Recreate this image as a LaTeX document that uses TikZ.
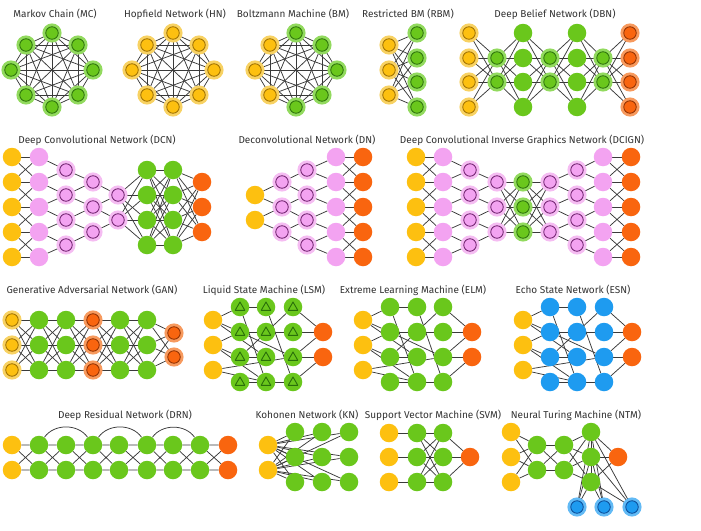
\documentclass[tikz,border=0pt]{standalone}
\usepackage{fontspec}
\setmainfont{Fira Sans}
\pgfdeclarelayer{bgl}
\pgfdeclarelayer{edges}
\pgfsetlayers{bgl,edges,main}
\definecolor{cY}{HTML}{FDC010}
\definecolor{cYh}{HTML}{F8D263}
\definecolor{cYd}{HTML}{9C6E00}
\definecolor{cG}{HTML}{6AC71C}
\definecolor{cGh}{HTML}{92DA5E}
\definecolor{cGd}{HTML}{2A6F0A}
\definecolor{cO}{HTML}{F9650F}
\definecolor{cOh}{HTML}{F79A5E}
\definecolor{cOd}{HTML}{8C2E00}
\definecolor{cP}{HTML}{F3A3F1}
\definecolor{cPh}{HTML}{F5BCF2}
\definecolor{cPd}{HTML}{6E1F6C}
\definecolor{cB}{HTML}{1E9BF0}
\definecolor{cBh}{HTML}{62BAF5}
\definecolor{cBd}{HTML}{0A4A96}
\definecolor{cE}{HTML}{3A3A3A}
\definecolor{cT}{HTML}{333333}
\newcommand\mklayer[4]{\foreach \yy [count=\kk] in {#3} {\node[#4] (#1\kk) at (#2,\yy) {};}}
\newcommand\fullc[4]{\begin{pgfonlayer}{edges}\foreach \aa in {1,...,#2} {\foreach \bb in {1,...,#4} {\draw[lnk] (#1\aa) -- (#3\bb);}}\end{pgfonlayer}}
\newcommand\convc[3]{\begin{pgfonlayer}{edges}\pgfmathtruncatemacro\mynn{#2-1}\foreach \jj in {1,...,\mynn} {\pgfmathtruncatemacro\myjn{\jj+1}\draw[lnk] (#3\jj) -- (#1\jj) (#3\jj) -- (#1\myjn);}\end{pgfonlayer}}
\newcommand\crossc[3]{\begin{pgfonlayer}{edges}\foreach \jj in {1,...,#3} {\draw[lnk] (#1\jj) -- (#2\jj);}\pgfmathtruncatemacro\mynn{#3-1}\foreach \jj in {1,...,\mynn} {\pgfmathtruncatemacro\myjn{\jj+1}\draw[lnk] (#1\jj) -- (#2\myjn) (#1\myjn) -- (#2\jj);}\end{pgfonlayer}}
\newcommand\kgraph[1]{\begin{pgfonlayer}{edges}\foreach \ii in {1,...,7} {\pgfmathtruncatemacro\myk{\ii+1}\foreach \jj in {\myk,...,8} {\draw[lnk] (#1\ii) -- (#1\jj);}}\end{pgfonlayer}}
\newcommand\reserv[1]{\begin{pgfonlayer}{edges}\foreach \p/\q in {Y1/A1,Y1/A2,Y1/B3,Y2/A2,Y2/A3,Y2/B4,Y3/B4,Y3/C3,A1/B1,A1/B4,A2/B2,A2/C3,A3/C1,A3/B3,A4/B4,B1/C4,B2/C2,B4/C4,C1/O1,C2/O1,C3/O1,C3/O2,C4/O2} {\draw[lnk] (#1\p) -- (#1\q);}\end{pgfonlayer}}
\begin{document}
\begin{tikzpicture}[x=1pt,y=-1pt,
  lnk/.style={draw=cE,line width=0.75pt},
  ttl/.style={font=\fontsize{10}{12}\selectfont,text=cT,inner sep=0pt},
  plainn/.style={circle,minimum size=18.5pt,inner sep=0pt,fill=#1},
  ringn/.style n args={3}{circle,minimum size=12.5pt,inner sep=0pt,fill=#1,draw=#3,line width=0.8pt,preaction={draw=#2,line width=6.5pt}},
  nY/.style={plainn=cY}, nG/.style={plainn=cG}, nO/.style={plainn=cO},
  nP/.style={plainn=cP}, nB/.style={plainn=cB},
  rY/.style={ringn={cY}{cYh}{cYd}}, rG/.style={ringn={cG}{cGh}{cGd}},
  rO/.style={ringn={cO}{cOh}{cOd}}, rP/.style={ringn={cP}{cPh}{cPd}},
  rB/.style={ringn={cB}{cBh}{cBd}},
  tri/.style={nG,path picture={\draw[cGd,line width=0.9pt,line join=round] ([xshift=-4.8pt,yshift=-3.3pt]path picture bounding box.center) -- ++(9.6pt,0pt) -- ++(-4.8pt,8.3pt) -- cycle;}}]
\begin{pgfonlayer}{bgl}
\fill[white] (0,0) rectangle (701,530);
\end{pgfonlayer}
\useasboundingbox (0,0) rectangle (701,530);

% ---------- titles ----------
\node[ttl] (tMC) at (55,14) {Markov Chain (MC)};
\node[ttl] (tHN) at (175,14) {Hopfield Network (HN)};
\node[ttl] (tBM) at (293,14) {Boltzmann Machine (BM)};
\node[ttl] (tRBM) at (408,14) {Restricted BM (RBM)};
\node[ttl] (tDBN) at (555,14) {Deep Belief Network (DBN)};
\node[ttl] (tDCN) at (97,140) {Deep Convolutional Network (DCN)};
\node[ttl] (tDN) at (307,140) {Deconvolutional Network (DN)};
\node[ttl] (tDCIGN) at (522,140) {Deep Convolutional Inverse Graphics Network (DCIGN)};
\node[ttl] (tGAN) at (92,290) {Generative Adversarial Network (GAN)};
\node[ttl] (tLSM) at (264,290) {Liquid State Machine (LSM)};
\node[ttl] (tELM) at (413,290) {Extreme Learning Machine (ELM)};
\node[ttl] (tESN) at (573,290) {Echo State Network (ESN)};
\node[ttl] (tDRN) at (125,415) {Deep Residual Network (DRN)};
\node[ttl] (tKN) at (307,415) {Kohonen Network (KN)};
\node[ttl] (tSVM) at (433,415) {Support Vector Machine (SVM)};
\node[ttl] (tNTM) at (576,415) {Neural Turing Machine (NTM)};

% ---------- MC, HN, BM ----------
\foreach \i/\dx/\dy in {1/0/-37,2/26/-25,3/41/0,4/26/25,5/0/37,6/-26/25,7/-41/0,8/-26/-25} {
  \node[rG] (mc\i) at (52+\dx,70+\dy) {};
  \node[rY] (hn\i) at (173+\dx,70+\dy) {};
}
\foreach \i/\dx/\dy/\st in {1/0/-37/rG,2/26/-25/rG,3/41/0/rG,4/26/25/rG,5/0/37/rG,6/-26/25/rY,7/-41/0/rY,8/-26/-25/rY} {
  \node[\st] (bm\i) at (296+\dx,70+\dy) {};
}
\kgraph{mc}\kgraph{hn}\kgraph{bm}

% ---------- RBM ----------
\mklayer{rbA}{389}{45,70,95}{rY}
\mklayer{rbB}{417}{33,58,82,107}{rG}
\fullc{rbA}{3}{rbB}{4}

% ---------- DBN ----------
\mklayer{dbA}{469}{33,58,82,107}{rY}
\mklayer{dbB}{497}{58,82}{rG}
\mklayer{dbC}{523}{33,58,82,107}{nG}
\mklayer{dbD}{550}{58,82}{rG}
\mklayer{dbE}{577}{33,58,82,107}{nG}
\mklayer{dbF}{603}{58,82}{rG}
\mklayer{dbG}{630}{33,58,82,107}{rO}
\fullc{dbA}{4}{dbB}{2}\fullc{dbB}{2}{dbC}{4}\fullc{dbC}{4}{dbD}{2}
\fullc{dbD}{2}{dbE}{4}\fullc{dbE}{4}{dbF}{2}\fullc{dbF}{2}{dbG}{4}

% ---------- DCN ----------
\mklayer{dcA}{12}{157,182,207,232,257}{nY}
\mklayer{dcB}{39}{157,182,207,232,257}{nP}
\mklayer{dcC}{66}{170,195,220,245}{rP}
\mklayer{dcD}{93}{182,207,232}{rP}
\mklayer{dcE}{118}{195,220}{rP}
\mklayer{dcF}{147}{170,195,220,245}{nG}
\mklayer{dcG}{173}{170,195,220,245}{nG}
\mklayer{dcH}{202}{182,207,232}{nO}
\crossc{dcA}{dcB}{5}
\convc{dcB}{5}{dcC}\convc{dcC}{4}{dcD}\convc{dcD}{3}{dcE}
\fullc{dcE}{2}{dcF}{4}\fullc{dcF}{4}{dcG}{4}\fullc{dcG}{4}{dcH}{3}

% ---------- DN ----------
\mklayer{dnA}{255}{195,220}{nY}
\mklayer{dnB}{282}{182,207,232}{rP}
\mklayer{dnC}{307}{170,195,220,245}{rP}
\mklayer{dnD}{336}{157,182,207,232,257}{nP}
\mklayer{dnE}{363}{157,182,207,232,257}{nO}
\convc{dnB}{3}{dnA}\convc{dnC}{4}{dnB}\convc{dnD}{5}{dnC}
\crossc{dnD}{dnE}{5}

% ---------- DCIGN ----------
\mklayer{diA}{416}{157,182,207,232,257}{nY}
\mklayer{diB}{443}{157,182,207,232,257}{nP}
\mklayer{diC}{470}{170,195,220,245}{rP}
\mklayer{diD}{497}{182,207,232}{rP}
\mklayer{diE}{523}{182,207,232}{rG}
\mklayer{diF}{550}{182,207,232}{rP}
\mklayer{diG}{577}{170,195,220,245}{rP}
\mklayer{diH}{603}{157,182,207,232,257}{nP}
\mklayer{diI}{631}{157,182,207,232,257}{nO}
\crossc{diA}{diB}{5}
\convc{diB}{5}{diC}\convc{diC}{4}{diD}
\fullc{diD}{3}{diE}{3}\fullc{diE}{3}{diF}{3}
\convc{diG}{4}{diF}\convc{diH}{5}{diG}
\crossc{diH}{diI}{5}

% ---------- GAN ----------
\mklayer{gaA}{12}{320,345,370}{rY}
\mklayer{gaB}{39}{320,345,370}{nG}
\mklayer{gaC}{66}{320,345,370}{nG}
\mklayer{gaD}{93}{320,345,370}{rO}
\mklayer{gaE}{120}{320,345,370}{nG}
\mklayer{gaF}{147}{320,345,370}{nG}
\mklayer{gaG}{174}{333,357}{rO}
\fullc{gaA}{3}{gaB}{3}\fullc{gaB}{3}{gaC}{3}\fullc{gaC}{3}{gaD}{3}
\fullc{gaD}{3}{gaE}{3}\fullc{gaE}{3}{gaF}{3}\fullc{gaF}{3}{gaG}{2}

% ---------- LSM ----------
\mklayer{lsY}{213}{320,345,370}{nY}
\mklayer{lsA}{240}{307,332,357,382}{tri}
\mklayer{lsB}{266}{307,332,357,382}{tri}
\mklayer{lsC}{293}{307,332,357,382}{tri}
\mklayer{lsO}{323}{332,357}{nO}
\reserv{ls}

% ---------- ELM ----------
\mklayer{elY}{363}{320,345,370}{nY}
\mklayer{elA}{390}{307,332,357,382}{nG}
\mklayer{elB}{417}{307,332,357,382}{nG}
\mklayer{elC}{443}{307,332,357,382}{nG}
\mklayer{elO}{472}{332,357}{nO}
\reserv{el}

% ---------- ESN ----------
\mklayer{esY}{523}{320,345,370}{nY}
\mklayer{esA}{550}{307,332,357,382}{nB}
\mklayer{esB}{577}{307,332,357,382}{nB}
\mklayer{esC}{604}{307,332,357,382}{nB}
\mklayer{esO}{632}{332,357}{nO}
\reserv{es}

% ---------- DRN ----------
\foreach \c/\x/\st in {1/12/nY,2/39/nG,3/66/nG,4/93/nG,5/119/nG,6/147/nG,7/173/nG,8/200/nG,9/228/nO} {
  \node[\st] (drt\c) at (\x,445) {};
  \node[\st] (drb\c) at (\x,470) {};
}
\begin{pgfonlayer}{edges}
\foreach \c in {1,...,8} {
  \pgfmathtruncatemacro\mycn{\c+1}
  \draw[lnk] (drt\c) -- (drt\mycn) (drb\c) -- (drb\mycn) (drt\c) -- (drb\mycn) (drb\c) -- (drt\mycn);
}
\foreach \c/\d in {2/4,4/6,6/8} {
  \draw[lnk] (drt\c) to[out=55,in=125,looseness=1] (drt\d);
}
\end{pgfonlayer}

% ---------- KN ----------
\mklayer{knY}{268}{445,470}{nY}
\mklayer{knA}{295}{432,457,482}{nG}
\mklayer{knB}{322}{432,457,482}{nG}
\mklayer{knC}{349}{432,457,482}{nG}
\fullc{knY}{2}{knA}{3}\fullc{knY}{2}{knB}{3}\fullc{knY}{2}{knC}{3}

% ---------- SVM ----------
\mklayer{svY}{389}{433,457,482}{nY}
\mklayer{svA}{417}{433,457,482}{nG}
\mklayer{svB}{443}{433,457,482}{nG}
\mklayer{svO}{470}{457}{nO}
\begin{pgfonlayer}{edges}
\foreach \i in {1,2,3} {\draw[lnk] (svY\i) -- (svA\i);}
\end{pgfonlayer}
\fullc{svA}{3}{svB}{3}\fullc{svB}{3}{svO}{1}

% ---------- NTM ----------
\mklayer{ntY}{511}{432,457,482}{nY}
\mklayer{ntA}{537}{445,470}{nG}
\mklayer{ntB}{564}{445,470}{nG}
\mklayer{ntC}{591}{432,457,482}{nG}
\mklayer{ntO}{618}{457}{nO}
\node[rB] (ntU1) at (577,507) {};
\node[rB] (ntU2) at (604,507) {};
\node[rB] (ntU3) at (632,507) {};
\fullc{ntY}{3}{ntA}{2}\fullc{ntA}{2}{ntB}{2}\fullc{ntB}{2}{ntC}{3}
\fullc{ntC}{3}{ntO}{1}\fullc{ntC}{3}{ntU}{3}
\begin{pgfonlayer}{edges}
\draw[lnk] (ntC1) -- (ntC2) (ntC2) -- (ntC3);
\end{pgfonlayer}
\end{tikzpicture}
\end{document}
